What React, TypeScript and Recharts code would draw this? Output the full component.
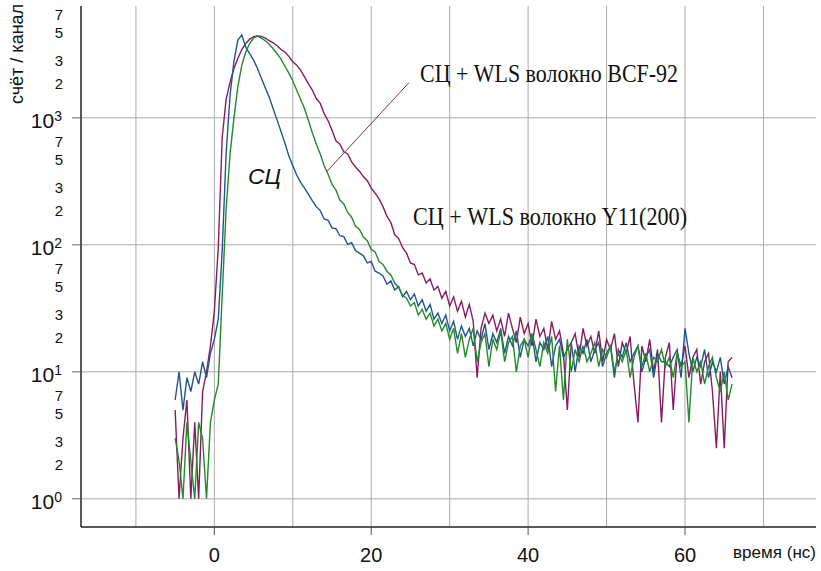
import React from "react";
import {
  LineChart,
  Line,
  XAxis,
  YAxis,
  CartesianGrid,
  ReferenceLine,
} from "recharts";

// channel grid of the time spectrum (ns)
const T_START = -5;
const CHANNEL = 0.5;

// counts per channel
const scOnly = [
  6, 10, 5, 9, 7, 10, 8, 12, 9, 14,
  18, 26, 90, 520, 1500, 2800, 4100, 4500, 3600, 3200,
  2850, 2450, 2050, 1720, 1450, 1180, 960, 780, 630, 500,
  420, 355, 310, 280, 250, 222, 200, 186, 160, 156,
  136, 134, 118, 116, 101, 104, 90, 86, 82, 72,
  74, 62, 60, 57, 49, 52, 44, 47, 39, 43,
  37, 41, 33, 37, 30, 34, 26, 29, 24, 28,
  21, 25, 18, 23, 19, 22, 16, 21, 18, 24,
  15, 20, 17, 22, 14, 19, 16, 21, 13, 18,
  16, 20, 12, 17, 15, 19, 11, 16, 18, 13,
  15, 17, 10, 16, 14, 18, 12, 15, 17, 11,
  14, 16, 9, 15, 13, 17, 12, 14, 16, 10,
  13, 15, 9, 14, 12, 12, 11, 13, 15, 9,
  22, 14, 10, 13, 11, 15, 9, 12, 10, 13,
  8, 11, 9,
];

const scY11 = [
  5, 1, 3, 6, 1, 4, 1, 7, 10, 16,
  30, 95, 700, 1400, 1900, 2450, 2950, 3450, 3850, 4150,
  4350, 4420, 4380, 4250, 4050, 3900, 3700, 3450, 3300, 3050,
  2770, 2600, 2380, 2100, 1850, 1650, 1420, 1300, 1080, 950,
  800, 660, 620, 540, 520, 450, 410, 380, 345, 320,
  280, 255, 230, 200, 168, 150, 120, 112, 95, 86,
  72, 70, 58, 60, 50, 54, 44, 47, 38, 43,
  33, 39, 30, 36, 27, 34, 25, 9, 22, 29,
  24, 28, 21, 26, 19, 29, 22, 17, 27, 20,
  24, 16, 26, 19, 22, 15, 25, 18, 21, 14,
  5, 17, 20, 13, 22, 16, 19, 14, 21, 12,
  18, 15, 20, 11, 17, 14, 19, 8, 4, 16,
  12, 18, 10, 15, 4, 13, 17, 5, 14, 11,
  16, 9, 13, 15, 8, 12, 14, 7, 2.5, 10,
  2.5, 12, 13,
];

const scBCF92 = [
  3, 2, 1, 4, 2, 1, 4, 3, 1, 4,
  6, 8, 40, 190, 520, 1000, 1770, 2600, 3300, 3850,
  4250, 4400, 4250, 4050, 3800, 3500, 3200, 2900, 2550, 2250,
  1950, 1650, 1400, 1180, 950, 760, 620, 520, 420, 360,
  300, 270, 225, 210, 180, 165, 140, 132, 115, 108,
  92, 88, 74, 70, 62, 58, 50, 46, 40, 38,
  33, 35, 28, 31, 26, 29, 23, 26, 21, 24,
  18, 22, 14, 20, 13, 18, 22, 12, 17, 20,
  11, 18, 15, 21, 12, 17, 19, 10, 16, 18,
  13, 20, 15, 11, 17, 14, 19, 7, 16, 6,
  18, 10, 15, 12, 16, 12, 14, 17, 11, 15,
  13, 16, 10, 14, 12, 15, 9, 13, 16, 11,
  14, 10, 13, 12, 15, 11, 13, 9, 14, 11,
  12, 4, 13, 10, 12, 8, 11, 13, 9, 7,
  10, 6, 8,
];

const xTicks = [0, 20, 40, 60];
const xGrid = [-10, 0, 10, 20, 30, 40, 50, 60, 70];
const yGrid = [1, 10, 100, 1000];
const yTicks = [
  1, 2, 3, 5, 7, 10, 20, 30, 50, 70, 100, 200, 300, 500, 700,
  1000, 2000, 3000, 5000, 7000,
];
// pointer from the BCF-92 label to its curve
const pointer = [
  { x: 14.3, y: 376 },
  { x: 24.8, y: 1890 },
];

const data = scOnly.map((v, i) => ({
  t: T_START + i * CHANNEL,
  sc: v,
  y11: scY11[i],
  bcf: scBCF92[i],
}));

const SANS = "'Liberation Sans', Arial, sans-serif";
const SERIF = "'Liberation Serif', 'Times New Roman', serif";

function YTick({ x, y, payload }: any) {
  const v = payload.value;
  const exp = Math.log10(v);
  const decade = Math.abs(exp - Math.round(exp)) < 1e-6;
  if (decade) {
    return (
      <g>
        <line x1={x - 9} x2={x} y1={y} y2={y} stroke="#666" />
        <text
          x={x - 19}
          y={y + 10}
          textAnchor="end"
          fontSize={21}
          fontFamily={SANS}
          fill="#111"
        >
          10
          <tspan dy={-7} fontSize={14}>
            {Math.round(exp)}
          </tspan>
        </text>
      </g>
    );
  }
  return (
    <text
      x={x - 18}
      y={y + 9}
      textAnchor="end"
      fontSize={15}
      fontFamily={SANS}
      fill="#111"
    >
      {String(v).charAt(0)}
    </text>
  );
}

function XTick({ x, y, payload }: any) {
  return (
    <g>
      <line x1={x} x2={x} y1={y} y2={y + 8} stroke="#555" />
      <text
        x={x}
        y={y + 35}
        textAnchor="middle"
        fontSize={20}
        fontFamily={SANS}
        fill="#111"
      >
        {payload.value}
      </text>
    </g>
  );
}

export default function App() {
  return (
    <div
      style={{
        position: "absolute",
        left: 0,
        top: 0,
        width: 821,
        height: 571,
        background: "#fff",
      }}
    >
      <LineChart
        width={821}
        height={571}
        data={data}
        margin={{ top: 6, right: 5, bottom: 0, left: 0 }}
      >
        <CartesianGrid
          stroke="#aaa"
          horizontalValues={yGrid}
          verticalValues={xGrid}
        />
        <XAxis
          dataKey="t"
          type="number"
          domain={[-17, 76.7]}
          allowDataOverflow
          ticks={xTicks}
          interval={0}
          height={44}
          tickSize={0}
          tickMargin={0}
          tickLine={false}
          tick={<XTick />}
          axisLine={{ stroke: "#222", strokeWidth: 1.5 }}
        />
        <XAxis
          xAxisId="top"
          orientation="top"
          type="number"
          domain={[-17, 76.7]}
          height={0}
          tick={false}
          tickLine={false}
          axisLine={{ stroke: "#555" }}
        />
        <YAxis
          scale="log"
          domain={[0.6, 7600]}
          allowDataOverflow
          ticks={yTicks}
          interval={0}
          width={81}
          tickSize={0}
          tickMargin={0}
          tickLine={false}
          tick={<YTick />}
          axisLine={{ stroke: "#222", strokeWidth: 1.5 }}
        />
        <YAxis
          yAxisId="right"
          orientation="right"
          type="number"
          domain={[0, 1]}
          width={0}
          tick={false}
          tickLine={false}
          axisLine={{ stroke: "#555" }}
        />
        <Line
          dataKey="y11"
          type="linear"
          stroke="#861d5e"
          strokeWidth={1.4}
          dot={false}
          isAnimationActive={false}
        />
        <Line
          dataKey="sc"
          type="linear"
          stroke="#21568f"
          strokeWidth={1.4}
          dot={false}
          isAnimationActive={false}
        />
        <Line
          dataKey="bcf"
          type="linear"
          stroke="#238a2a"
          strokeWidth={1.4}
          dot={false}
          isAnimationActive={false}
        />
        <ReferenceLine
          segment={pointer}
          stroke="#7b3a3a"
          strokeWidth={1}
          ifOverflow="visible"
        />
      </LineChart>
      <svg
        width={821}
        height={571}
        style={{ position: "absolute", left: 0, top: 0, pointerEvents: "none" }}
      >
        <text
          transform="translate(23,54) rotate(-90)"
          textAnchor="middle"
          fontSize={18}
          fontFamily={SANS}
          fill="#111"
        >
          счёт / канал
        </text>
        <text
          x={816}
          y={558}
          textAnchor="end"
          fontSize={16}
          fontFamily={SANS}
          fill="#111"
          textLength={83}
          lengthAdjust="spacingAndGlyphs"
        >
          время (нс)
        </text>
        <text
          x={248}
          y={184}
          fontSize={22}
          fontStyle="italic"
          fontFamily={SANS}
          fill="#111"
          textLength={33}
          lengthAdjust="spacingAndGlyphs"
        >
          СЦ
        </text>
        <text
          x={420}
          y={82}
          fontSize={25}
          fontFamily={SERIF}
          fill="#111"
          textLength={258}
          lengthAdjust="spacingAndGlyphs"
        >
          СЦ + WLS волокно BCF-92
        </text>
        <text
          x={413}
          y={225}
          fontSize={25}
          fontFamily={SERIF}
          fill="#111"
          textLength={274}
          lengthAdjust="spacingAndGlyphs"
        >
          СЦ + WLS волокно Y11(200)
        </text>
      </svg>
    </div>
  );
}
